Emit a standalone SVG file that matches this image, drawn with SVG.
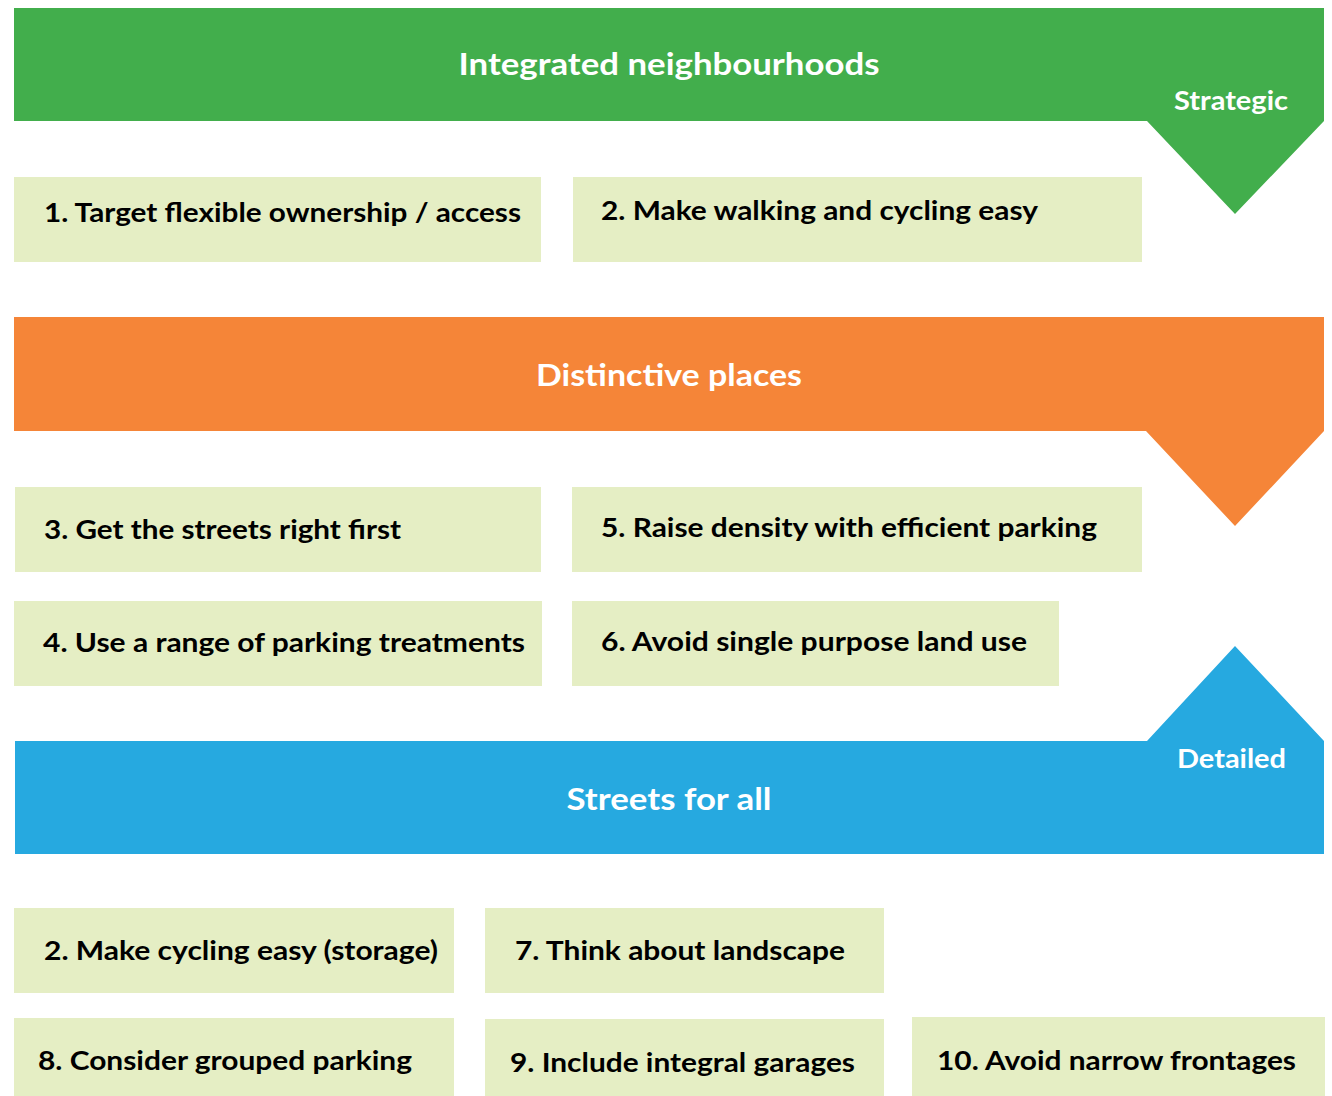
<svg xmlns="http://www.w3.org/2000/svg" width="1332" height="1096" viewBox="0 0 1332 1096">
  <style>
    .box { fill: #E5EEC4; }
    .lbl { font-family: Lato, "Open Sans", "Liberation Sans", sans-serif; font-weight: bold; font-size: 27px; fill: #000000; }
    .head { font-family: Lato, "Open Sans", "Liberation Sans", sans-serif; font-weight: bold; font-size: 31px; fill: #FFFFFF; text-anchor: middle; }
    .tag { font-family: Lato, "Open Sans", "Liberation Sans", sans-serif; font-weight: bold; font-size: 27px; fill: #FFFFFF; }
  </style>
  <rect width="1332" height="1096" fill="#FFFFFF"/>

  <!-- Strategic level banner with downward arrow -->
  <g id="integrated-neighbourhoods">
    <path d="M14,8 H1324 V121 L1235,214 L1147,121 H14 Z" fill="#42AE4C"/>
    <text class="head" x="669" y="75" textLength="421" lengthAdjust="spacingAndGlyphs">Integrated neighbourhoods</text>
    <text class="tag" x="1174" y="110" textLength="114" lengthAdjust="spacingAndGlyphs">Strategic</text>
  </g>

  <g id="item-1">
    <rect class="box" x="14" y="177" width="527" height="85"/>
    <text class="lbl" x="44" y="222" textLength="477" lengthAdjust="spacingAndGlyphs">1. Target flexible ownership / access</text>
  </g>
  <g id="item-2">
    <rect class="box" x="573" y="177" width="569" height="85"/>
    <text class="lbl" x="601" y="220" textLength="437" lengthAdjust="spacingAndGlyphs">2. Make walking and cycling easy</text>
  </g>

  <!-- Middle level banner -->
  <g id="distinctive-places">
    <path d="M14,317 H1324 V431 L1235,526 L1146,431 H14 Z" fill="#F58538"/>
    <text class="head" x="669" y="386" textLength="266" lengthAdjust="spacingAndGlyphs">Distinctive places</text>
  </g>

  <g id="item-3">
    <rect class="box" x="15" y="487" width="526" height="85"/>
    <text class="lbl" x="44" y="539" textLength="357" lengthAdjust="spacingAndGlyphs">3. Get the streets right first</text>
  </g>
  <g id="item-5">
    <rect class="box" x="572" y="487" width="570" height="85"/>
    <text class="lbl" x="601" y="537" textLength="496" lengthAdjust="spacingAndGlyphs">5. Raise density with efficient parking</text>
  </g>
  <g id="item-4">
    <rect class="box" x="14" y="601" width="528" height="85"/>
    <text class="lbl" x="43" y="652" textLength="482" lengthAdjust="spacingAndGlyphs">4. Use a range of parking treatments</text>
  </g>
  <g id="item-6">
    <rect class="box" x="572" y="601" width="487" height="85"/>
    <text class="lbl" x="601" y="651" textLength="426" lengthAdjust="spacingAndGlyphs">6. Avoid single purpose land use</text>
  </g>

  <!-- Detailed level banner with upward arrow -->
  <g id="streets-for-all">
    <path d="M15,741 H1147 L1235,646 L1324,741 V854 H15 Z" fill="#26A9E0"/>
    <text class="head" x="669" y="810" textLength="205" lengthAdjust="spacingAndGlyphs">Streets for all</text>
    <text class="tag" x="1177" y="768" textLength="109" lengthAdjust="spacingAndGlyphs">Detailed</text>
  </g>

  <g id="item-2b">
    <rect class="box" x="14" y="908" width="440" height="85"/>
    <text class="lbl" x="44" y="960" textLength="394" lengthAdjust="spacingAndGlyphs">2. Make cycling easy (storage)</text>
  </g>
  <g id="item-7">
    <rect class="box" x="485" y="908" width="399" height="85"/>
    <text class="lbl" x="515" y="960" textLength="330" lengthAdjust="spacingAndGlyphs">7. Think about landscape</text>
  </g>
  <g id="item-8">
    <rect class="box" x="14" y="1018" width="440" height="78"/>
    <text class="lbl" x="38" y="1070" textLength="374" lengthAdjust="spacingAndGlyphs">8. Consider grouped parking</text>
  </g>
  <g id="item-9">
    <rect class="box" x="485" y="1019" width="399" height="77"/>
    <text class="lbl" x="510" y="1072" textLength="345" lengthAdjust="spacingAndGlyphs">9. Include integral garages</text>
  </g>
  <g id="item-10">
    <rect class="box" x="912" y="1017" width="413" height="79"/>
    <text class="lbl" x="937" y="1070" textLength="359" lengthAdjust="spacingAndGlyphs">10. Avoid narrow frontages</text>
  </g>
</svg>
